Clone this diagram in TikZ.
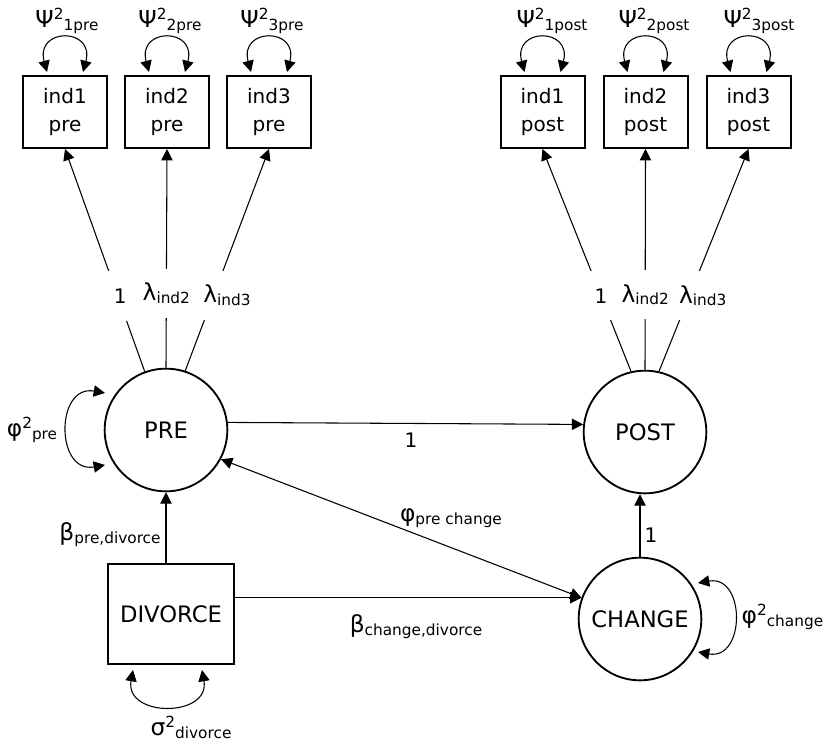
\documentclass[tikz,border=0pt]{standalone}
\usepackage{fontspec}
\setmainfont{DejaVu Sans}
\usetikzlibrary{arrows.meta,positioning}
\newcommand{\labfont}{\fontsize{17.5}{20}\selectfont}
\newcommand{\subfont}{\fontsize{11.5}{13}\selectfont}
\newcommand{\psub}[2]{#1\raisebox{-0.12em}{\subfont #2}}
\newcommand{\psupsub}[3]{#1\raisebox{0.35em}{\subfont #2}\raisebox{-0.12em}{\subfont #3}}
\tikzset{
  indbox/.style={draw,line width=1.5pt,minimum width=63pt,minimum height=54pt,
                 align=center,font=\fontsize{15}{21}\selectfont},
  latent/.style={draw,circle,line width=1.4pt,minimum size=92pt,inner sep=0pt,
                 font=\fontsize{17}{20}\selectfont},
  obsbox/.style={draw,line width=1.5pt,minimum width=94.5pt,minimum height=75pt,
                 font=\fontsize{17}{20}\selectfont},
  path/.style={line width=0.8pt},
  varlbl/.style={font=\labfont,inner sep=1pt},
  loadlbl/.style={fill=white,inner sep=1pt,minimum width=20pt,minimum height=37pt,
                  font=\labfont},
  numlbl/.style={font=\fontsize{15}{17}\selectfont,inner sep=1pt}
}
% indicator box with its residual variance
\newcommand{\indicator}[5]{%
  \node[indbox] (#1) at (#2,628) {#3};
  \draw[path,<->] ([shift={(-18,3)}]#1.north) to[out=105,in=75,looseness=3.3]
    ([shift={(18,3)}]#1.north);
  \node[varlbl] (#1var) at (#4,719) {#5};
}
\begin{document}
\begin{tikzpicture}[x=0.75pt,y=0.75pt,>={Triangle[length=8.5pt,width=8.5pt]}]
  \useasboundingbox (0,0) rectangle (838,740);

  \indicator{i1pre}{65}{ind1\\pre}{67}{\psupsub{Ψ}{2}{1pre}}
  \indicator{i2pre}{167}{ind2\\pre}{170}{\psupsub{Ψ}{2}{2pre}}
  \indicator{i3pre}{269}{ind3\\pre}{272}{\psupsub{Ψ}{2}{3pre}}
  \indicator{i1post}{542.5}{ind1\\post}{552}{\psupsub{Ψ}{2}{1post}}
  \indicator{i2post}{645.5}{ind2\\post}{654}{\psupsub{Ψ}{2}{2post}}
  \indicator{i3post}{748.5}{ind3\\post}{759}{\psupsub{Ψ}{2}{3post}}

  \node[latent] (pre) at (166,310) {PRE};
  \node[latent] (post) at (645,308) {POST};
  \node[latent] (change) at (640,121) {CHANGE};
  \node[obsbox] (divorce) at (171,126) {DIVORCE};

  % loadings
  \draw[path,->] (pre.110) -- node[loadlbl,pos=0.34,xshift=2pt] (l1pre) {\fontsize{15}{17}\selectfont 1} (i1pre.south);
  \draw[path,->] (pre.90) -- node[loadlbl,pos=0.34] (l2pre) {\psub{λ}{ind2}} (i2pre.south);
  \draw[path,->] (pre.72) -- node[loadlbl,pos=0.34,xshift=10pt] (l3pre) {\psub{λ}{ind3}} (i3pre.south);
  \draw[path,->] (post.103) -- node[loadlbl,pos=0.34] (l1post) {\fontsize{15}{17}\selectfont 1} (i1post.south);
  \draw[path,->] (post.90) -- node[loadlbl,pos=0.34] (l2post) {\psub{λ}{ind2}} (i2post.south);
  \draw[path,->] (post.77) -- node[loadlbl,pos=0.34,xshift=10pt] (l3post) {\psub{λ}{ind3}} (i3post.south);

  % structural part
  \draw[path,->] (pre.7) -- (post.173);
  \node[numlbl] (prepost) at (411,300) {1};
  \draw[path,->] (pre.south |- divorce.north) -- (pre.south);
  \node[varlbl] (bpre) at (110,205) {\psub{β}{pre,divorce}};
  \draw[path,->] (divorce.east |- change.160) -- (change.160);
  \node[varlbl] (bchange) at (416,113) {\psub{β}{change,divorce}};
  \draw[path,<->] (pre.-28) -- (change.160);
  \node[varlbl] (cov) at (451,222) {\psub{φ}{pre change}};
  \draw[path,->] (change.north) -- (change.north |- post.south);
  \node[numlbl] (changepost) at (651,205) {1};

  % variances
  \draw[path,<->] ([shift={(-61,37)}]pre.center) to[out=170,in=190,looseness=1.8]
    ([shift={(-61,-35)}]pre.center);
  \node[varlbl] (vpre) at (32,310) {\psupsub{φ}{2}{pre}};
  \draw[path,<->] ([shift={(58,36)}]change.center) to[out=10,in=-10,looseness=1.8]
    ([shift={(58,-33)}]change.center);
  \node[varlbl,anchor=west] (vchange) at (740,123) {\psupsub{φ}{2}{change}};
  \draw[path,<->] ([shift={(-38,-56)}]divorce.center) to[out=-100,in=-80,looseness=1.8]
    ([shift={(31,-56)}]divorce.center);
  \node[varlbl] (vdivorce) at (191,13) {\psupsub{σ}{2}{divorce}};
\end{tikzpicture}
\end{document}
